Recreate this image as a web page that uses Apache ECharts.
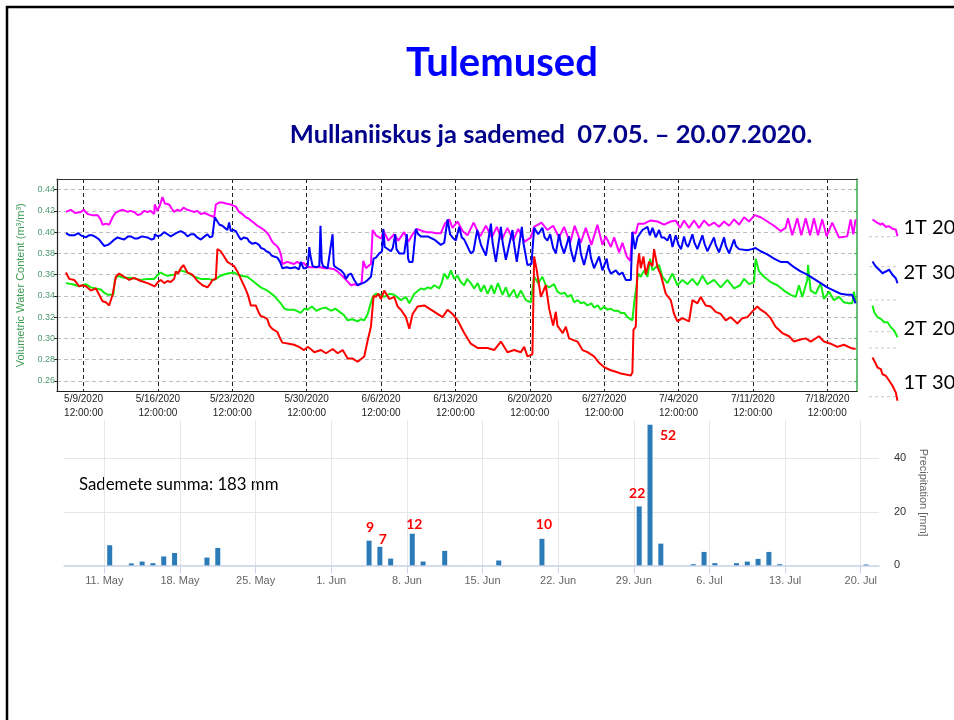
<!DOCTYPE html>
<html><head><meta charset="utf-8">
<script src="https://cdn.jsdelivr.net/npm/echarts@6/dist/echarts.min.js"></script>
<style>html,body{margin:0;padding:0;background:#fff}#c{width:954px;height:720px}</style>
</head><body><div id="c"></div>
<script>
// ---- data ----
const DAY0 = Date.UTC(2020, 4, 7); // time axis origin: 07.05.2020 00:00, x values = days since then
const titleText = 'Tulemused';
const subtitleText = 'Mullaniiskus ja sademed  07.05. \u2013 20.07.2020.';
const sumText = 'Sademete summa: 183 mm';
const seriesNames = ['1T 20', '2T 30', '2T 20', '1T 30'];
const topTickLabels = ['5/9/2020','5/16/2020','5/23/2020','5/30/2020','6/6/2020','6/13/2020','6/20/2020','6/27/2020','7/4/2020','7/11/2020','7/18/2020'];
const topTickTime = '12:00:00';
const moistureTicks = [0.26,0.28,0.30,0.32,0.34,0.36,0.38,0.40,0.42,0.44];
const precipTickLabels = ['11. May','18. May','25. May','1. Jun','8. Jun','15. Jun','22. Jun','29. Jun','6. Jul','13. Jul','20. Jul'];
const precipTicks = [0, 20, 40];

// 1T 20 (magenta)
const s1T20 = [[0.84,.419],[1.3,.421],[1.7,.418],[2.25,.419],[2.5,.421],[2.88,.417],[3.3,.416],[3.82,.416],[4.1,.412],[4.29,.407],[4.6,.408],[4.91,.407],[5.23,.414],[5.5,.418],[5.85,.420],[6.2,.421],[6.64,.419],[6.9,.42],[7.26,.419],[7.6,.416],[7.89,.417],[8.2,.42],[8.52,.419],[8.8,.42],[9.15,.417],[9.2,.426],[9.45,.42],[9.71,.426],[9.85,.426],[9.93,.433],[10.15,.427],[10.56,.426],[10.8,.422],[11.03,.419],[11.3,.421],[11.65,.420],[11.9,.423],[12.28,.421],[12.6,.42],[12.91,.419],[13.2,.42],[13.53,.417],[13.9,.418],[14.32,.416],[14.6,.415],[14.79,.414],[14.95,.426],[15.3,.428],[15.57,.428],[15.9,.427],[16.36,.426],[16.6,.425],[16.83,.424],[17.14,.419],[17.45,.417],[17.77,.414],[18.0,.413],[18.24,.411],[18.5,.409],[18.86,.406],[19.2,.404],[19.49,.402],[19.7,.400],[19.96,.397],[20.2,.392],[20.43,.389],[20.7,.387],[20.9,.384],[21.1,.378],[21.21,.370],[21.69,.372],[22.0,.371],[22.31,.370],[22.6,.372],[22.94,.37],[23.2,.371],[23.57,.367],[24.22,.367],[24.8,.367],[25.16,.366],[25.6,.366],[26.1,.365],[26.4,.363],[26.73,.36],[27.2,.355],[27.67,.35],[28.0,.351],[28.3,.35],[28.67,.352],[28.83,.373],[29.08,.366],[29.3,.368],[29.55,.37],[29.71,.402],[30.02,.397],[30.49,.394],[30.74,.401],[31.18,.392],[31.74,.398],[32.12,.392],[32.68,.4],[33.06,.391],[33.47,.398],[33.88,.403],[34.41,.401],[34.8,.40],[35.19,.40],[35.7,.399],[36.13,.399],[36.51,.408],[36.92,.412],[37.23,.404],[37.7,.41],[38.17,.401],[38.64,.397],[39.21,.409],[39.83,.396],[40.37,.406],[40.93,.395],[41.4,.405],[41.87,.393],[42.4,.404],[42.94,.392],[43.41,.403],[44.03,.391],[44.6,.395],[44.91,.405],[45.6,.409],[46.16,.402],[46.7,.406],[47.26,.395],[47.73,.405],[48.3,.39],[48.73,.406],[49.3,.39],[49.77,.404],[50.3,.388],[50.87,.407],[51.34,.388],[51.65,.396],[52.13,.386],[52.44,.395],[52.91,.381],[53.22,.39],[53.63,.377],[53.95,.373],[54.16,.40],[54.48,.399],[54.7,.408],[55.26,.408],[55.89,.411],[56.52,.41],[57.14,.407],[57.77,.41],[58.24,.411],[58.65,.404],[59.02,.411],[59.49,.404],[59.96,.411],[60.43,.404],[60.9,.411],[61.37,.406],[61.84,.409],[62.31,.405],[62.79,.41],[63.26,.406],[63.73,.412],[64.2,.407],[64.67,.414],[65.14,.41],[65.67,.416],[66.23,.414],[66.86,.41],[67.49,.406],[68.11,.401],[68.58,.404],[68.8,.413],[69.21,.397],[69.68,.413],[70.06,.397],[70.47,.413],[70.88,.397],[71.25,.413],[71.63,.397],[72.03,.412],[72.44,.396],[72.97,.409],[73.6,.395],[74.38,.396],[74.7,.412],[74.95,.398],[75.17,.412]];
// 2T 30 (blue)
const s2T30 = [[0.84,.399],[1.2,.397],[1.62,.397],[2.0,.399],[2.25,.397],[2.72,.395],[3.0,.397],[3.35,.397],[3.7,.395],[3.97,.393],[4.44,.387],[4.8,.388],[5.07,.39],[5.4,.393],[5.7,.395],[6.0,.394],[6.32,.393],[6.7,.396],[6.95,.396],[7.3,.394],[7.58,.394],[8.0,.396],[8.52,.395],[8.9,.393],[9.15,.394],[9.21,.398],[9.5,.396],[9.77,.397],[10.09,.400],[10.4,.398],[10.71,.396],[11.2,.399],[11.65,.401],[12.0,.399],[12.28,.396],[12.6,.398],[12.91,.398],[13.2,.395],[13.53,.393],[13.9,.396],[14.16,.398],[14.4,.395],[14.63,.396],[14.85,.414],[15.1,.41],[15.3,.407],[15.57,.406],[15.8,.404],[16.04,.402],[16.2,.409],[16.36,.401],[16.6,.402],[16.83,.401],[17.1,.396],[17.3,.393],[17.6,.395],[17.92,.394],[18.1,.391],[18.39,.389],[18.7,.39],[19.02,.388],[19.2,.385],[19.49,.384],[19.7,.382],[19.96,.381],[20.2,.378],[20.43,.377],[20.74,.376],[21.0,.372],[21.21,.366],[21.6,.367],[21.99,.366],[22.4,.367],[22.78,.365],[22.95,.372],[23.09,.372],[23.2,.366],[23.41,.366],[23.6,.368],[23.75,.386],[23.85,.378],[24.06,.368],[24.4,.367],[24.69,.368],[24.8,.406],[24.92,.372],[25.04,.368],[25.47,.366],[25.73,.384],[25.94,.398],[26.05,.37],[26.1,.368],[26.4,.366],[26.73,.364],[27.0,.361],[27.2,.356],[27.45,.36],[27.67,.361],[27.98,.355],[28.3,.35],[28.5,.351],[28.77,.352],[29.0,.353],[29.24,.355],[29.55,.358],[29.8,.375],[30.02,.376],[30.33,.38],[30.6,.382],[30.71,.403],[30.85,.386],[30.96,.385],[31.43,.382],[31.6,.385],[31.84,.398],[31.95,.384],[32.21,.38],[32.68,.38],[32.93,.398],[33.05,.375],[33.15,.372],[33.47,.372],[33.6,.385],[33.78,.403],[34.0,.398],[34.25,.396],[34.88,.396],[35.51,.393],[36.13,.388],[36.45,.39],[36.76,.412],[37.0,.398],[37.23,.395],[37.54,.392],[37.86,.405],[38.1,.395],[38.33,.393],[38.8,.383],[38.95,.38],[39.2,.382],[39.55,.402],[39.9,.388],[40.37,.378],[40.84,.408],[41.0,.39],[41.31,.372],[41.78,.405],[41.95,.39],[42.25,.374],[42.87,.402],[43.0,.39],[43.28,.372],[43.75,.405],[43.9,.39],[44.28,.369],[44.66,.37],[44.91,.404],[45.29,.398],[45.69,.404],[45.9,.395],[46.16,.392],[46.42,.398],[46.7,.385],[46.95,.38],[47.26,.398],[47.45,.388],[47.73,.38],[48.2,.396],[48.35,.384],[48.67,.372],[49.14,.394],[49.3,.38],[49.61,.369],[50.08,.388],[50.25,.376],[50.55,.366],[51.02,.377],[51.34,.364],[51.74,.375],[51.9,.366],[52.13,.361],[52.6,.364],[52.91,.36],[53.22,.362],[53.54,.355],[54.01,.355],[54.16,.40],[54.4,.384],[54.63,.395],[55.1,.402],[55.58,.405],[55.8,.397],[56.05,.404],[56.36,.395],[56.67,.402],[56.9,.395],[57.14,.395],[57.46,.392],[57.7,.398],[57.93,.386],[58.24,.397],[58.5,.388],[58.74,.384],[59.02,.396],[59.2,.389],[59.4,.386],[59.81,.398],[60.0,.39],[60.28,.384],[60.75,.397],[60.95,.389],[61.22,.382],[61.84,.395],[62.0,.388],[62.31,.381],[62.79,.395],[62.95,.387],[63.26,.38],[63.73,.393],[63.9,.387],[64.2,.384],[64.98,.383],[65.4,.384],[65.76,.385],[66.23,.382],[66.86,.379],[67.49,.375],[68.11,.372],[68.74,.372],[69.37,.367],[69.99,.363],[70.62,.36],[71.25,.356],[71.88,.352],[72.5,.348],[73.13,.345],[73.76,.342],[74.38,.341],[74.85,.341],[75.17,.333]];
// 2T 20 (green)
const s2T20 = [[0.84,.352],[1.47,.351],[2.09,.349],[2.72,.351],[3.19,.348],[3.66,.347],[4.13,.346],[4.44,.343],[4.8,.341],[5.07,.341],[5.3,.341],[5.45,.355],[5.7,.359],[6.32,.357],[6.95,.357],[7.4,.356],[7.89,.355],[8.5,.356],[9.15,.356],[9.5,.36],[9.77,.362],[10.1,.36],[10.4,.359],[11.03,.36],[11.65,.364],[12.28,.362],[12.91,.358],[13.53,.356],[14.16,.356],[14.79,.355],[15.41,.359],[16.04,.361],[16.67,.362],[17.0,.360],[17.3,.359],[17.92,.358],[18.55,.353],[19.18,.348],[19.8,.345],[20.43,.34],[21.06,.333],[21.4,.328],[21.69,.327],[22.31,.327],[22.94,.324],[23.3,.328],[23.59,.327],[24.0,.33],[24.4,.326],[24.85,.328],[25.3,.329],[25.79,.326],[26.2,.328],[26.73,.324],[27.0,.322],[27.36,.317],[27.8,.318],[28.3,.316],[28.6,.318],[28.92,.317],[29.24,.323],[29.5,.332],[29.71,.339],[30.02,.342],[30.4,.341],[30.8,.339],[31.3,.342],[31.74,.341],[32.37,.336],[32.84,.339],[33.16,.333],[33.63,.342],[34.25,.347],[34.6,.346],[34.88,.348],[35.2,.347],[35.51,.35],[35.98,.347],[36.2,.352],[36.45,.361],[36.76,.356],[37.07,.364],[37.39,.356],[37.7,.359],[38.0,.353],[38.33,.35],[38.6,.356],[38.95,.352],[39.27,.347],[39.6,.352],[39.9,.344],[40.2,.35],[40.52,.342],[40.9,.35],[41.15,.342],[41.5,.352],[41.93,.341],[42.25,.348],[42.56,.339],[43.0,.346],[43.3,.338],[43.66,.345],[44.13,.336],[44.6,.334],[44.91,.358],[45.29,.352],[45.69,.358],[46.0,.35],[46.32,.348],[46.79,.351],[47.1,.344],[47.42,.342],[47.8,.343],[48.05,.339],[48.4,.341],[48.67,.334],[49.0,.336],[49.3,.333],[49.6,.334],[49.93,.331],[50.3,.333],[50.55,.329],[50.9,.331],[51.18,.327],[51.5,.33],[51.81,.327],[52.1,.328],[52.43,.326],[52.8,.326],[53.07,.324],[53.4,.324],[53.69,.32],[54.16,.317],[54.32,.333],[54.48,.334],[54.7,.361],[54.95,.358],[55.26,.364],[55.58,.358],[55.83,.375],[56.05,.364],[56.36,.367],[56.67,.369],[56.99,.358],[57.46,.352],[57.93,.361],[58.4,.35],[58.87,.355],[59.34,.351],[59.81,.356],[60.28,.35],[60.75,.359],[61.22,.351],[61.84,.355],[62.47,.348],[63.1,.355],[63.73,.347],[64.3,.35],[64.67,.356],[65.14,.351],[65.61,.353],[65.76,.375],[66.08,.363],[66.55,.358],[67.17,.353],[67.8,.35],[68.43,.345],[69.05,.341],[69.53,.339],[69.84,.35],[70.15,.339],[70.62,.355],[70.69,.369],[70.94,.345],[71.41,.342],[71.88,.352],[72.19,.337],[72.66,.344],[73.13,.336],[73.6,.339],[74.07,.334],[74.54,.333],[74.85,.333],[75.01,.344],[75.17,.334]];
// 1T 30 (red)
const s1T30 = [[0.84,.362],[1.15,.356],[1.62,.355],[2.09,.349],[2.4,.35],[2.72,.349],[3.19,.345],[3.66,.347],[3.97,.341],[4.29,.335],[4.6,.334],[4.91,.331],[5.07,.33],[5.23,.341],[5.54,.358],[5.85,.361],[6.32,.358],[6.79,.355],[7.26,.357],[7.89,.354],[8.52,.352],[9.2,.349],[9.5,.353],[9.77,.355],[10.1,.352],[10.4,.354],[10.7,.353],[11.03,.356],[11.18,.363],[11.4,.361],[11.65,.366],[11.9,.369],[12.28,.362],[12.75,.36],[13.22,.354],[13.69,.35],[14.16,.348],[14.4,.351],[14.63,.355],[14.95,.356],[15.1,.384],[15.41,.382],[15.73,.377],[16.04,.372],[16.36,.37],[16.67,.368],[16.98,.363],[17.3,.356],[17.77,.346],[18.0,.34],[18.24,.331],[18.71,.331],[19.0,.324],[19.18,.321],[19.5,.320],[19.8,.318],[20.0,.312],[20.27,.309],[20.74,.306],[21.0,.300],[21.21,.296],[21.84,.295],[22.31,.294],[22.78,.292],[23.25,.289],[23.59,.292],[23.88,.29],[24.22,.287],[24.85,.289],[25.32,.286],[25.95,.29],[26.42,.286],[26.89,.289],[27.36,.281],[27.83,.281],[28.3,.278],[28.92,.283],[29.24,.298],[29.55,.311],[29.8,.34],[30.02,.339],[30.24,.342],[30.49,.337],[30.8,.345],[31.27,.337],[31.74,.339],[32.06,.33],[32.37,.327],[32.84,.32],[33.16,.309],[33.47,.323],[33.94,.33],[34.57,.331],[35.19,.327],[35.82,.323],[36.29,.32],[36.76,.327],[37.23,.323],[37.7,.317],[38.33,.305],[38.95,.295],[39.58,.291],[40.52,.291],[41.15,.289],[41.78,.297],[42.4,.287],[43.03,.289],[43.66,.287],[43.97,.292],[44.28,.283],[44.75,.285],[44.91,.377],[45.16,.364],[45.54,.339],[46.01,.35],[46.32,.328],[46.7,.312],[46.95,.325],[47.1,.312],[47.6,.305],[47.89,.311],[48.2,.3],[48.99,.297],[49.46,.289],[49.93,.287],[50.55,.283],[51.02,.277],[51.49,.273],[52.12,.27],[52.44,.269],[53.07,.267],[53.54,.266],[54.01,.265],[54.16,.268],[54.26,.308],[54.48,.311],[54.63,.367],[54.79,.38],[54.95,.366],[55.2,.377],[55.42,.36],[55.73,.372],[56.05,.368],[56.2,.384],[56.52,.367],[56.83,.36],[57.3,.342],[57.77,.336],[58.08,.323],[58.4,.316],[58.87,.319],[59.49,.316],[59.81,.336],[60.28,.333],[60.59,.339],[61.06,.331],[61.53,.33],[62.0,.325],[62.47,.323],[62.94,.317],[63.41,.32],[64.04,.314],[64.51,.319],[64.98,.32],[65.61,.327],[65.92,.33],[66.23,.327],[66.7,.324],[67.17,.319],[67.64,.311],[68.27,.305],[68.9,.302],[69.37,.297],[69.99,.299],[70.47,.3],[70.94,.297],[71.72,.302],[72.19,.297],[72.82,.295],[73.44,.292],[74.07,.294],[74.7,.291],[75.17,.29]];

// daily precipitation (mm)
const precipDates  = ['2020-05-11','2020-05-13','2020-05-14','2020-05-15','2020-05-16','2020-05-17','2020-05-20','2020-05-21','2020-06-04','2020-06-05','2020-06-06','2020-06-08','2020-06-09','2020-06-11','2020-06-16','2020-06-20','2020-06-29','2020-06-30','2020-07-01','2020-07-04','2020-07-05','2020-07-06','2020-07-08','2020-07-09','2020-07-10','2020-07-11','2020-07-12','2020-07-20'];
const precipValues = [7.5,0.7,1.4,0.8,3.3,4.6,2.9,6.5,9.2,6.9,2.5,11.8,1.4,5.4,1.8,9.9,22,52.5,8.1,0.4,5.0,0.8,0.8,1.4,2.4,5.0,0.4,0.3];
const precipLabels = {'2020-06-04':'9','2020-06-05':'7','2020-06-08':'12','2020-06-20':'10','2020-06-29':'22','2020-06-30':'52'};

// ---- styling (not data) ----
const lineColors = {'1T 20':'#ff00ff','2T 30':'#0000ff','2T 20':'#11ee11','1T 30':'#ff0000'};
const labelOffsets = {'9':[1,0],'7':[3,6],'12':[2,4],'10':[2,-1.5],'22':[-2,0],'52':[18,24]};
const legendIcons = {
  '1T 20':'path://M0,0 L5,3.3 L8.3,5 L10,4 L13.3,7.3 L16.7,6.7 L20,9.3 L23.3,10 L25,16.7',
  '2T 30':'path://M0,0 L3.3,5 L6.7,8.3 L10,11.7 L13.3,10 L16.7,8.3 L20,13.3 L23.3,16.7 L25,21.7',
  '2T 20':'path://M0,0 L1.7,6.7 L5,11.7 L8.3,13.3 L11.7,16.7 L15,16.7 L18.3,21.7 L21.7,25 L25,31.7 M25,47',
  '1T 30':'path://M0,0 L2.7,5 L5,10 L8.3,11.7 L10,16.7 L13.3,18.3 L16.7,23.3 L20,28.3 L23.3,35 L25,43.3 M25,50'
};
const legendBox = {'1T 20':[217,17],'2T 30':[259,22],'2T 20':[303,47],'1T 30':[355,50]};

// ---- helpers ----
function dayFromUS(s, time) { const [m,d,y] = s.split('/').map(Number); const [h,mi] = time.split(':').map(Number); return (Date.UTC(y,m-1,d,h,mi) - DAY0)/864e5; }
function dayFromISO(s) { const [y,m,d] = s.split('-').map(Number); return (Date.UTC(y,m-1,d) - DAY0)/864e5; }
const MON = {May:4, Jun:5, Jul:6};
function dayFromHC(s) { const p = s.split('. '); return (Date.UTC(2020, MON[p[1]], +p[0]) - DAY0)/864e5; }
const topTickDays = topTickLabels.map(s => dayFromUS(s, topTickTime));
const topTickMap = {}; topTickLabels.forEach((s,i) => topTickMap[topTickDays[i].toFixed(3)] = s + '\n' + topTickTime);
const precipTickDays = precipTickLabels.map(dayFromHC);
const precipTickMap = {}; precipTickLabels.forEach((s,i) => precipTickMap[precipTickDays[i].toFixed(3)] = s);

const series = [];
const moisture = {'1T 20': s1T20, '2T 30': s2T30, '2T 20': s2T20, '1T 30': s1T30};
['2T 20','1T 30','1T 20','2T 30'].forEach(n => series.push({
  name: n, type: 'line', xAxisIndex: 0, yAxisIndex: 0, data: moisture[n], showSymbol: false, symbol: 'none',
  lineStyle: {color: lineColors[n], width: 2}, itemStyle: {color: lineColors[n]}, silent: true
}));
series.push({
  type: 'bar', xAxisIndex: 2, yAxisIndex: 2, barWidth: 5,
  itemStyle: {color: '#2b7bb9'},
  data: precipDates.map((d, i) => {
    const item = {value: [dayFromISO(d) + 0.5, precipValues[i]]};
    const lab = precipLabels[d];
    if (lab) item.label = {show: true, position: 'top', formatter: lab, offset: labelOffsets[lab],
      color: '#ff0000', fontWeight: 'bold', fontSize: 14, fontFamily: 'Lato', lineHeight: 16};
    return item;
  })
});

const legends = seriesNames.map(n => ({
  data: [{name: n, icon: legendIcons[n], itemStyle: {color: 'none', borderColor: lineColors[n], borderWidth: 2}}],
  left: 870, top: legendBox[n][0], itemWidth: 25, itemHeight: legendBox[n][1], padding: 0,
  selectedMode: false, textStyle: {fontSize: 20, fontFamily: 'Lato', color: '#000', padding: [0,0,0,1]}
}));

const dashY = [236.7, 266.7, 300, 331.7, 348, 396.7];

const option = {
  animation: false,
  backgroundColor: '#fff',
  legend: legends,
  grid: [
    {left: 57, top: 179, width: 800, height: 212.5, outerBoundsMode: 'none', containLabel: false},
    {left: 64, top: 420, width: 815, height: 145.3, outerBoundsMode: 'none', containLabel: false}
  ],
  xAxis: [
    {type: 'value', gridIndex: 0, min: 0, max: 75.3,
     axisLine: {show: true, lineStyle: {color: '#222', width: 1.2}},
     axisTick: {show: false, customValues: topTickDays},
     axisLabel: {customValues: topTickDays, formatter: v => topTickMap[v.toFixed(3)] || '', fontSize: 10, lineHeight: 13.5,
       fontFamily: 'Liberation Sans', color: '#222', margin: 1, hideOverlap: false},
     splitLine: {show: true, lineStyle: {color: '#222', type: [4, 3], width: 1}}},
    {type: 'value', gridIndex: 0, position: 'top', min: 0, max: 75.3,
     axisLine: {show: true, onZero: false, lineStyle: {color: '#333', width: 1.2}},
     axisTick: {show: false}, axisLabel: {show: false}, splitLine: {show: false}},
    {type: 'value', gridIndex: 1, min: 0.27, max: 75.69,
     axisLine: {show: true, lineStyle: {color: '#ccd6eb', width: 1.5}},
     axisTick: {show: true, customValues: precipTickDays, length: 8, lineStyle: {color: '#ccd6eb'}},
     axisLabel: {customValues: precipTickDays, formatter: v => precipTickMap[v.toFixed(3)] || '', fontSize: 11,
       fontFamily: 'Liberation Sans', color: '#666', margin: 10},
     splitLine: {show: true, lineStyle: {color: '#e6e6e6', width: 1}}}
  ],
  yAxis: [
    {type: 'value', gridIndex: 0, min: 0.25, max: 0.45,
     axisLine: {show: true, onZero: false, lineStyle: {color: '#222', width: 1.2}},
     axisTick: {show: true, customValues: moistureTicks, length: 3, lineStyle: {color: '#222'}},
     axisLabel: {customValues: moistureTicks, formatter: v => v.toFixed(2), fontSize: 9, fontFamily: 'Liberation Sans', color: '#4d9a72', margin: 2},
     splitLine: {show: true, lineStyle: {color: '#bdbdbd', type: [4, 3]}},
     name: 'Volumetric Water Content (m\u00b3/m\u00b3)', nameLocation: 'middle', nameGap: 21, nameRotate: 90,
     nameTextStyle: {fontSize: 11, fontFamily: 'Liberation Sans', color: '#3e9b55'}},
    {type: 'value', gridIndex: 0, position: 'right', min: 0.25, max: 0.45,
     axisLine: {show: true, onZero: false, lineStyle: {color: '#3aaa4a', width: 1.5}},
     axisTick: {show: true, inside: true, customValues: moistureTicks, length: 3, lineStyle: {color: '#3aaa4a'}},
     axisLabel: {show: false}, splitLine: {show: false}},
    {type: 'value', gridIndex: 1, position: 'right', min: 0, max: 54.3,
     axisLine: {show: false}, axisTick: {show: false, customValues: precipTicks},
     axisLabel: {customValues: precipTicks, fontSize: 11, fontFamily: 'Liberation Sans', color: '#333', margin: 15, align: 'left'},
     splitLine: {show: true, lineStyle: {color: '#e6e6e6'}},
     name: 'Precipitation [mm]', nameLocation: 'middle', nameGap: 33, nameRotate: -90,
     nameTextStyle: {fontSize: 11, fontFamily: 'Liberation Sans', color: '#666'}}
  ],
  series: series,
  graphic: [
    {type: 'rect', shape: {x: 7, y: 7, width: 1000, height: 800}, style: {fill: 'none', stroke: '#000', lineWidth: 2.5}, silent: true},
    {type: 'text', x: 502, y: 63, style: {text: titleText, font: 'bold 40px Lato', fill: '#0000ff', align: 'center', verticalAlign: 'middle'}},
    {type: 'text', x: 551, y: 135, style: {text: subtitleText, font: 'bold 25.5px Lato', fill: '#00008b', align: 'center', verticalAlign: 'middle'}},
    {type: 'text', x: 79, y: 485, style: {text: sumText, font: '16.8px Lato', fill: '#000', align: 'left', verticalAlign: 'middle'}}
  ].concat(dashY.map(y => ({type: 'line', shape: {x1: 869, y1: y, x2: 896, y2: y}, style: {stroke: '#c8c8c8', lineDash: [3, 3], lineWidth: 1}, silent: true})))
};
const chart = echarts.init(document.getElementById('c'), null, {renderer: 'canvas'});
chart.setOption(option);
</script></body></html>
